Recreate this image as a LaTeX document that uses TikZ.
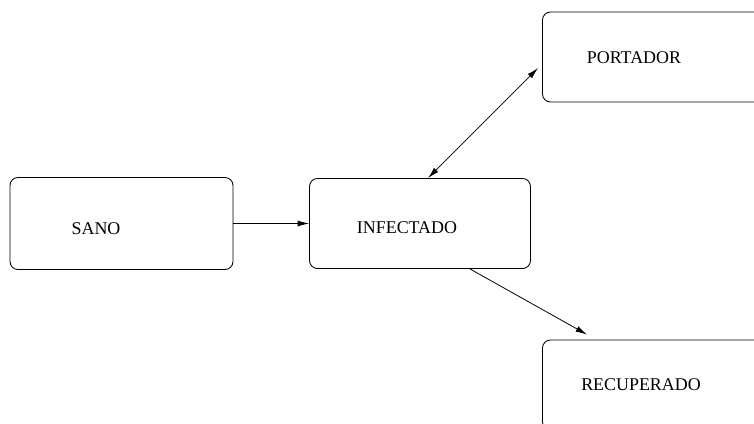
\documentclass[tikz,border=0pt]{standalone}
\usepackage{fontspec}
\setmainfont{Liberation Serif}
\usetikzlibrary{arrows.meta, calc, positioning}

\begin{document}
\begin{tikzpicture}[x=0.02cm,y=-0.02cm,>={Latex[length=6.5pt,width=3.4pt]},
    estado/.style={draw,line width=0.5pt,rounded corners=4.5pt,minimum width=4.42cm,minimum height=1.8cm,inner sep=0pt},
    rotulo/.style={inner sep=0pt,font=\fontsize{10.2}{12}\selectfont},
    flecha/.style={->,line width=0.45pt}]
    \useasboundingbox (0,0) rectangle (754,423);
    \clip (0,0) rectangle (754,423);
    % estados
    \node[estado,minimum width=4.46cm,minimum height=1.84cm] (sano) at (121.5,223.5) {};
    \node[estado] (infectado) at (420,223.5) {};
    \node[estado] (portador) at (653,57) {};
    \node[estado] (recuperado) at (653,385) {};
    % textos
    \node[rotulo] (sanotxt) at (96,229) {SANO};
    \node[rotulo] (infectadotxt) at (407,228) {INFECTADO};
    \node[rotulo] (portadortxt) at (634,58) {PORTADOR};
    \node[rotulo] (recuperadotxt) at (641,385) {RECUPERADO};
    % transiciones
    \draw[flecha] (sano.east) -- (infectado.west);
    \draw[flecha,<->] ([xshift=0.16cm]infectado.north) -- ([xshift=-0.08cm,yshift=-0.22cm]portador.west);
    \draw[flecha] ([xshift=1cm]infectado.south) -- ([xshift=-1.32cm,yshift=0.1cm]recuperado.north);
\end{tikzpicture}
\end{document}
